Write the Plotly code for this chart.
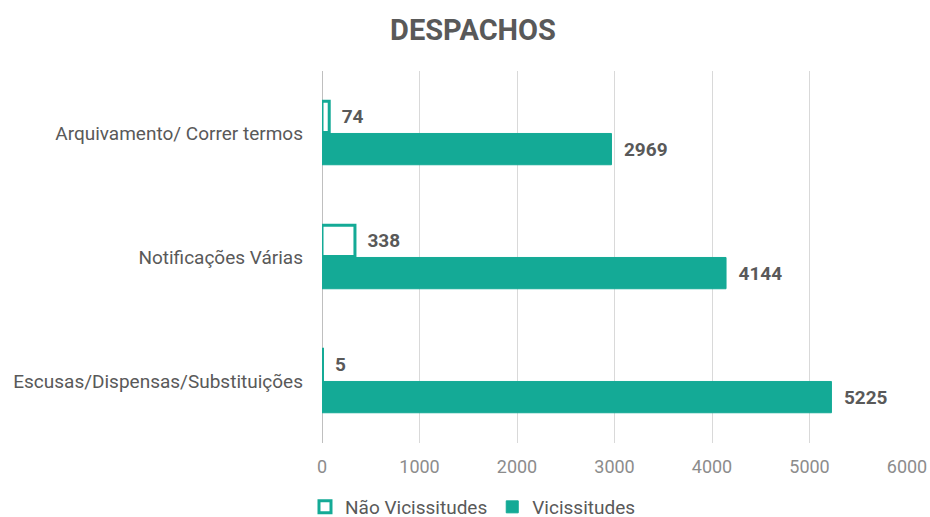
import plotly.graph_objects as go

categories = ["Arquivamento/ Correr termos", "Notificações Várias", "Escusas/Dispensas/Substituições"]
nao_vicissitudes = [74, 338, 5]
vicissitudes = [2969, 4144, 5225]
x_ticks = [0, 1000, 2000, 3000, 4000, 5000, 6000]

teal = "#14AA96"
gray = "#595959"

fig = go.Figure()
fig.add_trace(go.Bar(
    y=categories, x=nao_vicissitudes, orientation="h", name="Não Vicissitudes",
    marker=dict(color="white", line=dict(color=teal, width=3)),
    text=nao_vicissitudes, texttemplate="  %{x}", textposition="outside",
    textfont=dict(family="Roboto", size=19, color=gray, weight="bold"),
    cliponaxis=False,
))
fig.add_trace(go.Bar(
    y=categories, x=vicissitudes, orientation="h", name="Vicissitudes",
    marker=dict(color=teal, line=dict(color=teal, width=1)),
    text=vicissitudes, texttemplate="  %{x}", textposition="outside",
    textfont=dict(family="Roboto", size=19, color=gray, weight="bold"),
    cliponaxis=False,
))

fig.update_layout(
    width=930, height=517,
    margin=dict(l=322, r=23, t=71, b=74, autoexpand=False),
    paper_bgcolor="white", plot_bgcolor="white",
    barmode="group", bargap=0.48, bargroupgap=0.03,
    font=dict(family="Roboto", color=gray),
    title=dict(text="<b>DESPACHOS</b>", x=0.5086, xanchor="center", y=0.942, yanchor="middle",
               font=dict(family="Roboto", size=29, color=gray)),
    legend=dict(orientation="h", xref="container", x=0.5086, xanchor="center",
                y=-0.172, yanchor="middle",
                font=dict(family="Roboto", size=19, color=gray), traceorder="normal",
                itemwidth=30),
    showlegend=True,
)
fig.update_xaxes(
    range=[0, 6000], tickvals=x_ticks, showgrid=True, gridcolor="#D9D9D9", gridwidth=1,
    zeroline=True, zerolinecolor="#BFBFBF", zerolinewidth=1, automargin=False,
    tickfont=dict(family="Roboto", size=18, color="#8C8C8C"), ticklabelstandoff=11,
)
fig.update_yaxes(
    autorange="reversed", tickfont=dict(family="Roboto", size=19, color=gray),
    ticklabelstandoff=18, showgrid=False, automargin=False,
)

fig.write_html(
    "out.html",
    config={"displayModeBar": False},
    post_script="document.body.style.margin='0';document.body.style.overflow='hidden';",
)
